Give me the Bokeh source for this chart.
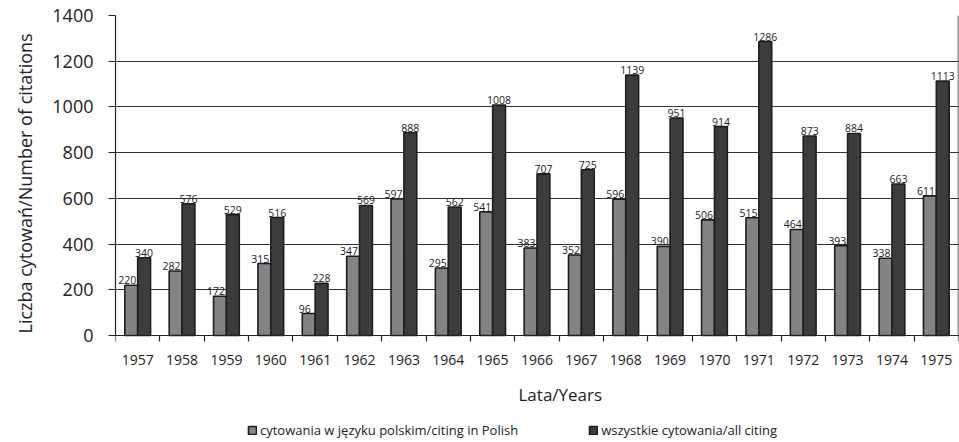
from bokeh.plotting import figure
from bokeh.models import (ColumnDataSource, FixedTicker, Legend, LegendItem, LabelSet, Label,
                          Range1d, Title)
from bokeh.core.properties import value
from bokeh.transform import dodge
from bokeh.embed import file_html
from bokeh.resources import INLINE

years = ['1957', '1958', '1959', '1960', '1961', '1962', '1963', '1964', '1965', '1966',
         '1967', '1968', '1969', '1970', '1971', '1972', '1973', '1974', '1975']
polish = [220, 282, 172, 315, 96, 347, 597, 295, 541, 383, 352, 596, 390, 506, 515, 464, 393, 338, 611]
all_citing = [340, 576, 529, 516, 228, 569, 888, 562, 1008, 707, 725, 1139, 951, 914, 1286, 873, 884, 663, 1113]
y_ticks = [0, 200, 400, 600, 800, 1000, 1200, 1400]
series_names = ['cytowania w języku polskim/citing in Polish', 'wszystkie cytowania/all citing']
y_title = 'Liczba cytowań/Number of citations'
x_title = 'Lata/Years'

FONT = 'Open Sans'
INK = '#222222'
n = len(years)
centers = [i + 0.5 for i in range(n)]
y_max = y_ticks[-1]
# frame extends below zero to host the axis labels, title and legend (107px of 427px)
y_min = -y_max * 107 / 320

src = ColumnDataSource(dict(
    x=centers, polish=polish, all_citing=all_citing,
    polish_lbl=[str(v) for v in polish], all_lbl=[str(v) for v in all_citing]))

p = figure(width=959, height=442, output_backend="svg", toolbar_location=None,
           x_range=Range1d(0, n), y_range=Range1d(y_min, y_max),
           min_border_left=110, min_border_right=1, min_border_top=15, min_border_bottom=0)
p.background_fill_color = None
p.border_fill_color = None
p.outline_line_color = None

# grid
p.xgrid.grid_line_color = None
p.ygrid.ticker = FixedTicker(ticks=y_ticks)
p.ygrid.grid_line_color = '#333333'
p.ygrid.grid_line_width = 1.2

# right border of the plot area
p.segment(x0=[n], y0=[0], x1=[n], y1=[y_max], line_color='#2a2a2a', line_width=1.5)

bw = 0.29
r1 = p.vbar(x=dodge('x', -bw / 2, range=p.x_range), top='polish', width=bw, source=src,
            fill_color='#838386', line_color='#1e1e1e', line_width=1.6)
r2 = p.vbar(x=dodge('x', bw / 2, range=p.x_range), top='all_citing', width=bw, source=src,
            fill_color='#3c3c3c', line_color='#1e1e1e', line_width=1.6)

for col, lbl, off, xo in (('polish', 'polish_lbl', -bw / 2, -4), ('all_citing', 'all_lbl', bw / 2, 0)):
    ls = LabelSet(x=dodge('x', off, range=p.x_range), y=col, text=lbl, source=src,
                  text_align='center', text_baseline='bottom', y_offset=1, x_offset=xo,
                  text_font_size='10.5px', text_font=value(FONT), text_color=INK)
    p.add_layout(ls)

# y axis
ya = p.yaxis[0]
ya.ticker = FixedTicker(ticks=y_ticks)
ya.bounds = (0, y_max)
ya.major_tick_out = 7
ya.major_tick_in = 0
ya.minor_tick_line_color = None
ya.major_label_standoff = 15
ya.major_label_text_font = FONT
ya.major_label_text_font_size = '18px'
ya.major_label_text_color = INK
ya.axis_line_color = INK
ya.axis_line_width = 1.2
ya.major_tick_line_color = INK

yt = Title(text=y_title, align='left', offset=109, standoff=23, vertical_align='middle',
           text_font=FONT, text_font_size='18px', text_font_style='normal', text_color=INK)
p.add_layout(yt, 'left')

# x axis at y=0: labels at category centers, tick marks at category boundaries
xa = p.xaxis[0]
xa.fixed_location = 0
xa.ticker = FixedTicker(ticks=centers, minor_ticks=list(range(n + 1)))
xa.major_label_overrides = {c: y for c, y in zip(centers, years)}
xa.major_tick_line_color = None
xa.major_tick_out = 0
xa.major_tick_in = 0
xa.minor_tick_out = 6
xa.minor_tick_in = 0
xa.minor_tick_line_color = INK
xa.minor_tick_line_width = 1.2
xa.axis_line_color = INK
xa.axis_line_width = 1.2
xa.major_label_standoff = 13
xa.major_label_text_font = FONT
xa.major_label_text_font_size = '14px'
xa.major_label_text_color = INK

xt = Label(x=403, y=48, x_units='screen', y_units='screen', text=x_title,
           text_baseline='middle', text_align='left',
           text_font=FONT, text_font_size='17px', text_color=INK)
p.add_layout(xt)

legend = Legend(items=[LegendItem(label=series_names[0], renderers=[r1]),
                       LegendItem(label=series_names[1], renderers=[r2])],
                orientation='horizontal', location=(132, 3),
                glyph_width=10, glyph_height=10, label_standoff=3, spacing=70,
                padding=0, margin=0, border_line_color=None, background_fill_color=None,
                label_text_font=FONT, label_text_font_size='13px', label_text_color=INK,
                label_height=13)
p.add_layout(legend, 'center')

open("out.html", "w").write(file_html(p, INLINE))
